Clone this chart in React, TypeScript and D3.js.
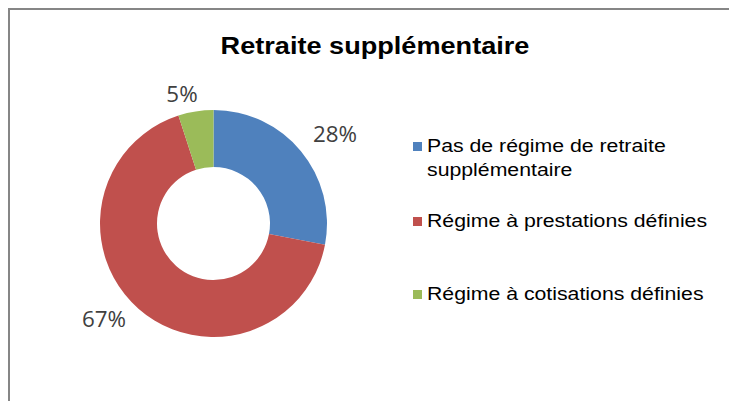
import React from "react";
import * as d3 from "d3";

const categories = [
  "Pas de régime de retraite supplémentaire",
  "Régime à prestations définies",
  "Régime à cotisations définies",
];
const values = [28, 67, 5];
const labels = ["28%", "67%", "5%"];
const colors = ["#4F81BD", "#C0504D", "#9BBB59"];
const legendLines = [
  ["Pas de régime de retraite", "supplémentaire"],
  ["Régime à prestations définies"],
  ["Régime à cotisations définies"],
];
const title = "Retraite supplémentaire";

export default function App() {
  const W = 729, H = 401;
  const cx = 213.5, cy = 223.5;
  const rOuter = 113.5, rInner = 56.5;
  const pie = d3.pie<number>().sort(null).value((d) => d);
  const arcs = pie(values);
  const arc = d3.arc<d3.PieArcDatum<number>>().innerRadius(rInner).outerRadius(rOuter);
  const labelPos: [number, number][] = [
    [335, 134],
    [104, 319],
    [182, 94],
  ];
  const legendY = [[152, 176], [227], [300]];
  const font = "'Liberation Sans', Arial, sans-serif";
  return (
    <svg width={W} height={H} style={{ position: "absolute", left: 0, top: 0, background: "#fff" }}>
      <rect x={9} y={9} width={W + 20} height={H + 20} fill="#fff" stroke="#868686" strokeWidth={2} />
      <g transform={`translate(375,54) scale(1.13,1)`}>
        <text x={0} y={0} textAnchor="middle" fontFamily={font} fontWeight="bold" fontSize={24} fill="#000">
          {title}
        </text>
      </g>
      <g transform={`translate(${cx},${cy})`}>
        {arcs.map((a, i) => (
          <path key={categories[i]} d={arc(a) || ""} fill={colors[i]} />
        ))}
      </g>
      {labels.map((l, i) => (
        <g key={l} transform={`translate(${labelPos[i][0]},${labelPos[i][1]}) scale(1.04,1)`}>
          <text x={0} y={0} dy="0.35em" textAnchor="middle"
            fontFamily="'Open Sans', sans-serif" fontSize={21.5} fill="#404040">
            {l}
          </text>
        </g>
      ))}
      {legendLines.map((lines, i) => (
        <g key={i}>
          <rect x={413} y={legendY[i][0] - 10} width={9} height={9} fill={colors[i]} />
          {lines.map((t, j) => (
            <g key={j} transform={`translate(427,${legendY[i][j]}) scale(1.15,1)`}>
              <text x={0} y={0} fontFamily={font} fontSize={18.5} fill="#000">
                {t}
              </text>
            </g>
          ))}
        </g>
      ))}
    </svg>
  );
}
